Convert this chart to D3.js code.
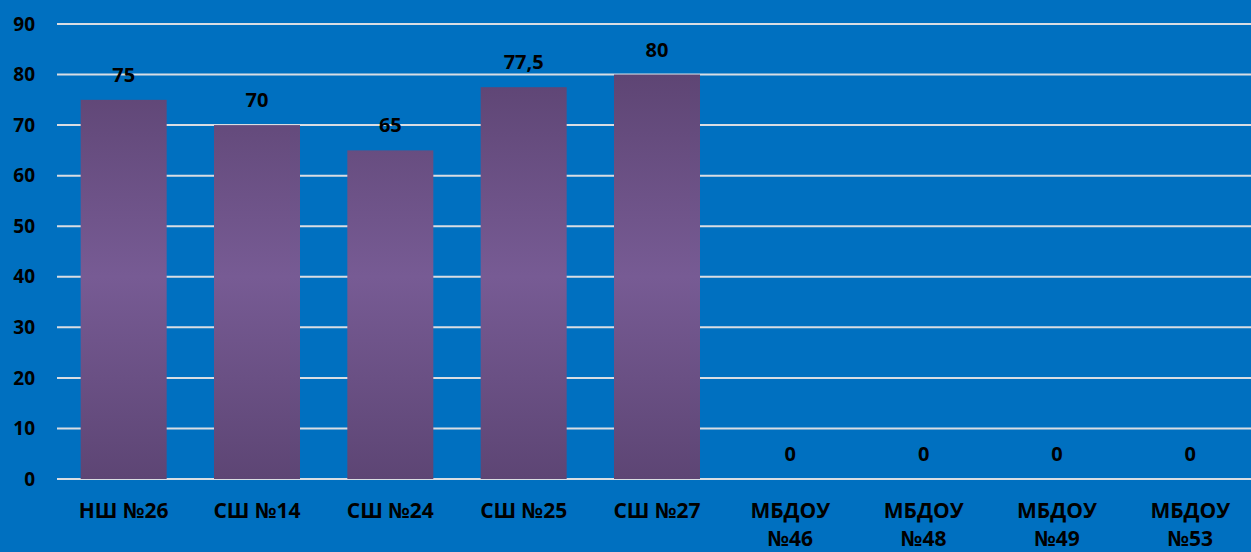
<html>
<head>
<meta charset="utf-8">
<script src="https://d3js.org/d3.v7.min.js"></script>
<style>
  body { margin: 0; background: #0070c0; }
  svg { display: block; }
  .lbl { font-family: "Open Sans", sans-serif; font-weight: bold; fill: #000; }
</style>
</head>
<body>
<svg width="1251" height="552"></svg>
<script>
var categories = ["НШ №26", "СШ №14", "СШ №24", "СШ №25", "СШ №27", "МБДОУ №46", "МБДОУ №48", "МБДОУ №49", "МБДОУ №53"];
var values = [75, 70, 65, 77.5, 80, 0, 0, 0, 0];
var yTicks = [0, 10, 20, 30, 40, 50, 60, 70, 80, 90];

var svg = d3.select("svg");
var plotLeft = 57, plotRight = 1257, plotTop = 24, plotBottom = 479;

var x = d3.scaleBand().domain(categories).range([plotLeft, plotRight]).paddingInner(0.355).paddingOuter(0.1775);
var y = d3.scaleLinear().domain([0, 90]).range([plotBottom, plotTop]);

var defs = svg.append("defs");
var grad = defs.append("linearGradient").attr("id", "barGrad")
    .attr("gradientUnits", "userSpaceOnUse")
    .attr("x1", 0).attr("x2", 0)
    .attr("y1", y(80)).attr("y2", plotBottom);
grad.append("stop").attr("offset", "0%").attr("stop-color", "#5e4574");
grad.append("stop").attr("offset", "50%").attr("stop-color", "#775b94");
grad.append("stop").attr("offset", "100%").attr("stop-color", "#5d4574");

// gridlines
svg.append("g").selectAll("line").data(yTicks).enter().append("line")
    .attr("x1", plotLeft).attr("x2", 1251)
    .attr("y1", function(d) { return y(d); })
    .attr("y2", function(d) { return y(d); })
    .attr("stroke", "#d9dde3").attr("stroke-width", 2);

// y labels
svg.append("g").selectAll("text").data(yTicks).enter().append("text")
    .attr("class", "lbl")
    .attr("x", 35).attr("y", function(d) { return y(d); })
    .attr("dy", "0.35em").attr("text-anchor", "end")
    .attr("font-size", "19px")
    .text(function(d) { return d; });

// bars
svg.append("g").selectAll("rect").data(values).enter().append("rect")
    .attr("x", function(d, i) { return x(categories[i]); })
    .attr("width", x.bandwidth())
    .attr("y", function(d) { return y(d); })
    .attr("height", function(d) { return plotBottom - y(d); })
    .attr("fill", "url(#barGrad)");

// value labels
svg.append("g").selectAll("text").data(values).enter().append("text")
    .attr("class", "lbl")
    .attr("x", function(d, i) { return x(categories[i]) + x.bandwidth() / 2; })
    .attr("y", function(d) { return y(d) - 25; })
    .attr("dy", "0.35em").attr("text-anchor", "middle")
    .attr("font-size", "20px")
    .text(function(d) { return String(d).replace(".", ","); });

// category labels
var cat = svg.append("g").selectAll("text").data(categories).enter().append("text")
    .attr("class", "lbl")
    .attr("x", function(d) { return x(d) + x.bandwidth() / 2; })
    .attr("y", 518)
    .attr("text-anchor", "middle")
    .attr("font-size", "21px");
cat.each(function(d) {
    var t = d3.select(this);
    var parts = d.indexOf("МБДОУ") === 0 ? ["МБДОУ", d.slice(6)] : [d];
    parts.forEach(function(p, k) {
        t.append("tspan").attr("x", t.attr("x")).attr("dy", k ? "28px" : 0).text(p);
    });
});
</script>
</body>
</html>
